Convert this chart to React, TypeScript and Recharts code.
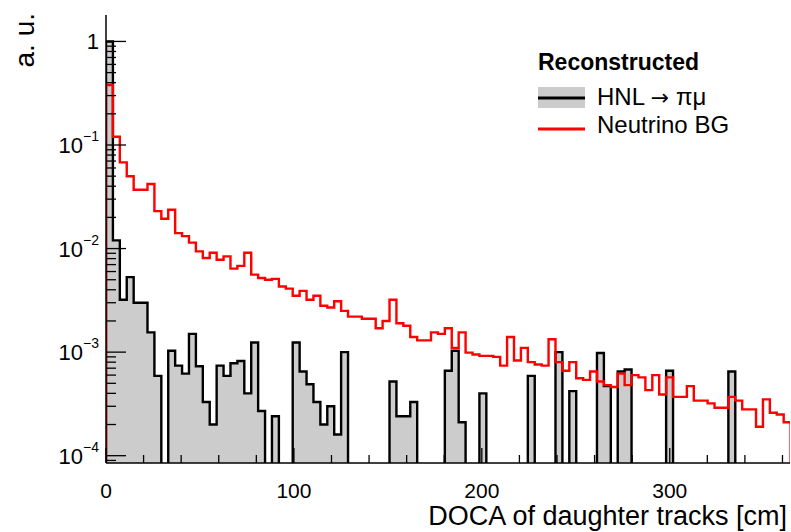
import React from "react";
import { ComposedChart, Area, Line, XAxis, YAxis, Legend } from "recharts";

// 99 bins of 3.68 cm starting at 0 (0 = empty bin)
const binWidth = 3.68;

const hnlCounts = [
  1.0, 0.012, 0.0032, 0.0053, 0.003, 0.003, 0.00155, 0.00059, 0, 0.00103,
  0.00074, 0.00062, 0.0015, 0.00073, 0.00033, 0.0002, 0.00074, 0.00059, 0.00078, 0.00082,
  0.0004, 0.00124, 0.00027, 0, 0.00024, 0, 0, 0.00124, 0.00065, 0.00049,
  0.00033, 0.0002, 0.0003, 0.00016, 0.001, 0, 0, 0, 0, 0,
  0, 0.00052, 0.00024, 0.00024, 0.00033, 0, 0, 0, 0, 0.00066,
  0.00103, 0.00021, 0, 0, 0.0004, 0, 0, 0, 0, 0,
  0, 0.00059, 0, 0, 0, 0.001, 0, 0.00042, 0, 0,
  0, 0.00098, 0.00047, 0, 0.00065, 0.00068, 0, 0, 0, 0,
  0, 0.00066, 0, 0, 0, 0, 0, 0, 0, 0,
  0.00065, 0, 0, 0, 0, 0, 0, 0, 0,
];

const neutrinoCounts = [
  0.38, 0.12, 0.068, 0.05, 0.037, 0.037, 0.042, 0.023, 0.0194, 0.0237,
  0.0141, 0.0132, 0.0114, 0.0094, 0.0081, 0.0091, 0.0078, 0.0084, 0.0064, 0.0068,
  0.0091, 0.0056, 0.0052, 0.005, 0.0051, 0.0043, 0.0041, 0.0035, 0.0039, 0.0032,
  0.0035, 0.0028, 0.0027, 0.0031, 0.0025, 0.0022, 0.0022, 0.0021, 0.0021, 0.0017,
  0.002, 0.0032, 0.0019, 0.0018, 0.0014, 0.0013, 0.0013, 0.00155, 0.0015, 0.0017,
  0.0011, 0.00155, 0.00099, 0.00095, 0.00092, 0.00092, 0.0009, 0.00074, 0.0014, 0.00083,
  0.0011, 0.0008, 0.00076, 0.00074, 0.00133, 0.0008, 0.00066, 0.0008, 0.00056, 0.00054,
  0.00065, 0.00052, 0.00048, 0.00046, 0.00062, 0.00048, 0.0006, 0.00057, 0.00043, 0.0006,
  0.00039, 0.00057, 0.00037, 0.00037, 0.00047, 0.00034, 0.00034, 0.00032, 0.00029, 0.00029,
  0.00037, 0.00034, 0.00028, 0.00028, 0.00019, 0.00035, 0.00026, 0.00025, 0.00021,
];

const xMajorTicks = [0, 100, 200, 300];
const xMinorStep = 20;
const yDecadeExponents = [-5, -4, -3, -2, -1, 0];

const X_MAX = 364;
const Y_MIN = 8.5e-5;
const Y_MAX = 1.8;
const FLOOR = 1e-7; // empty bins drop below the frame
const FONT = "'Liberation Sans', Arial, Helvetica, sans-serif";

const orFloor = (v: number) => (v > 0 ? v : FLOOR);

const data = [
  { x: 0, hnl: FLOOR, bg: FLOOR },
  ...hnlCounts.map((h, i) => ({
    x: i * binWidth,
    hnl: orFloor(h),
    bg: orFloor(neutrinoCounts[i]),
  })),
  { x: hnlCounts.length * binWidth, hnl: FLOOR, bg: FLOOR },
];

const xTicks: number[] = [];
for (let v = 0; v <= X_MAX; v += xMinorStep) xTicks.push(v);

const yTicks: number[] = [];
yDecadeExponents.forEach((e) => {
  for (let m = 1; m <= 9; m++) {
    const v = m * Math.pow(10, e);
    if (v >= Y_MIN && v <= Y_MAX) yTicks.push(v);
  }
});

const isDecade = (v: number) => {
  const l = Math.log10(v);
  return Math.abs(l - Math.round(l)) < 1e-6;
};

const BottomTick = (p: any) => {
  const major = xMajorTicks.includes(p.payload.value);
  return (
    <g>
      <line x1={p.x} y1={p.y} x2={p.x} y2={p.y - (major ? 15 : 8)} stroke="#000" strokeWidth={1.3} />
      {major && (
        <text x={p.x} y={p.y + 35} textAnchor="middle" fontSize={21} fontFamily={FONT} fill="#000">
          {p.payload.value}
        </text>
      )}
    </g>
  );
};

const TopTick = (p: any) => {
  const major = xMajorTicks.includes(p.payload.value);
  return <line x1={p.x} y1={p.y} x2={p.x} y2={p.y + (major ? 15 : 8)} stroke="#000" strokeWidth={1.3} />;
};

const LeftTick = (p: any) => {
  const v = p.payload.value;
  const major = isDecade(v);
  const exp = Math.round(Math.log10(v));
  return (
    <g>
      <line x1={p.x} y1={p.y} x2={p.x + (major ? 20 : 10)} y2={p.y} stroke="#000" strokeWidth={1.3} />
      {major && (
        <text x={p.x - 7} y={p.y + 8} textAnchor="end" fontSize={22} fontFamily={FONT} fill="#000">
          {exp === 0 ? (
            "1"
          ) : (
            <>
              10
              <tspan dy={-12} fontSize={14}>{`\u2212${-exp}`}</tspan>
            </>
          )}
        </text>
      )}
    </g>
  );
};

const RightTick = (p: any) => {
  const major = isDecade(p.payload.value);
  return <line x1={p.x} y1={p.y} x2={p.x - (major ? 20 : 10)} y2={p.y} stroke="#000" strokeWidth={1.3} />;
};

const XTitle = ({ viewBox }: any) => (
  <text x={viewBox.x + viewBox.width - 3} y={viewBox.y + 62} textAnchor="end" fontSize={27} fontFamily={FONT} fill="#000">
    DOCA of daughter tracks [cm]
  </text>
);

const YTitle = ({ viewBox }: any) => {
  const bx = viewBox.x - 12;
  const ty = viewBox.y - 2;
  return (
    <text x={bx} y={ty} transform={`rotate(-90, ${bx}, ${ty})`} textAnchor="end" fontSize={28} fontFamily={FONT} fill="#000">
      a. u.
    </text>
  );
};

const LegendBox = () => (
  <svg width={260} height={110} style={{ display: "block" }}>
    <text x={8} y={30} fontSize={23} fontWeight="bold" fontFamily={FONT} fill="#000">
      Reconstructed
    </text>
    <rect x={8} y={47} width={47} height={21} fill="#cccccc" />
    <line x1={8} y1={58} x2={55} y2={58} stroke="#000" strokeWidth={3} />
    <text x={67} y={65} fontSize={24} fontFamily={FONT} fill="#000">
      HNL <tspan fontFamily="'DejaVu Sans', sans-serif" fontSize={22}>→</tspan> πμ
    </text>
    <line x1={8} y1={89} x2={55} y2={89} stroke="#ff0000" strokeWidth={3} />
    <text x={67} y={93} fontSize={24} fontFamily={FONT} fill="#000">
      Neutrino BG
    </text>
  </svg>
);

const frameLine = { stroke: "#000", strokeWidth: 1.5 };

export default function App() {
  return (
    <div style={{ position: "absolute", left: 0, top: 0, background: "#fff" }}>
      <ComposedChart width={791} height={532} data={data} margin={{ top: 15, right: 1, bottom: 39, left: 46 }}>
        <XAxis
          xAxisId="b"
          dataKey="x"
          type="number"
          domain={[0, X_MAX]}
          allowDataOverflow
          ticks={xTicks}
          interval={0}
          tickSize={0}
          tickMargin={0}
          tick={(p: any) => <BottomTick {...p} />}
          axisLine={frameLine}
          height={30}
          label={<XTitle />}
        />
        <XAxis
          xAxisId="t"
          orientation="top"
          dataKey="x"
          type="number"
          domain={[0, X_MAX]}
          allowDataOverflow
          ticks={xTicks}
          interval={0}
          tickSize={0}
          tickMargin={0}
          tick={(p: any) => <TopTick {...p} />}
          axisLine={frameLine}
          height={0}
        />
        <YAxis
          yAxisId="l"
          type="number"
          scale="log"
          domain={[Y_MIN, Y_MAX]}
          allowDataOverflow
          ticks={yTicks}
          interval={0}
          tickSize={0}
          tickMargin={0}
          tick={(p: any) => <LeftTick {...p} />}
          axisLine={frameLine}
          width={60}
          label={<YTitle />}
        />
        <YAxis
          yAxisId="r"
          orientation="right"
          type="number"
          scale="log"
          domain={[Y_MIN, Y_MAX]}
          allowDataOverflow
          ticks={yTicks}
          interval={0}
          tickSize={0}
          tickMargin={0}
          tick={(p: any) => <RightTick {...p} />}
          axisLine={frameLine}
          width={0}
        />
        <Area
          xAxisId="b"
          yAxisId="l"
          type="stepAfter"
          dataKey="hnl"
          stroke="#000"
          strokeWidth={2.4}
          fill="#cccccc"
          fillOpacity={1}
          dot={false}
          activeDot={false}
          isAnimationActive={false}
        />
        <Line
          xAxisId="b"
          yAxisId="l"
          type="stepAfter"
          dataKey="bg"
          stroke="#ff0000"
          strokeWidth={2.4}
          dot={false}
          activeDot={false}
          isAnimationActive={false}
        />
        <Legend
          content={<LegendBox />}
          layout="vertical"
          align="center"
          verticalAlign="middle"
          wrapperStyle={{ left: 530, top: 40, width: 260, height: 110 }}
        />
      </ComposedChart>
    </div>
  );
}
